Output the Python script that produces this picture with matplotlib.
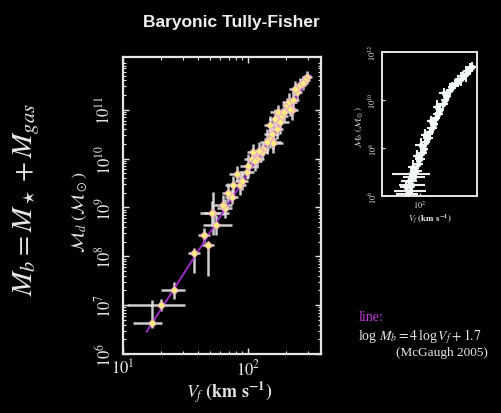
import numpy as np
import matplotlib
matplotlib.use("Agg")
import matplotlib.pyplot as plt

plt.rcParams['mathtext.fontset'] = 'stix'
plt.rcParams['font.family'] = ['Liberation Serif', 'DejaVu Serif']

# ---------------- main panel data (log10 values) ----------------
main_logV = [1.234, 1.304, 1.408, 1.570, 1.648, 1.682, 1.718, 1.742, 1.816, 1.870,
             1.910, 1.936, 1.990, 2.042, 2.070, 2.122, 2.176, 2.202, 2.216, 2.270,
             2.310, 2.350, 2.390, 2.470, 2.416, 1.710, 1.802, 2.030, 2.110, 2.200,
             2.176, 2.240, 2.336, 2.376, 2.456,
             1.950, 2.000, 2.060, 2.090, 2.150, 2.190, 2.230, 2.260, 2.290, 2.330,
             2.360, 2.440, 1.880, 1.840]
main_logM = [6.63, 7.01, 7.30, 8.06, 8.43, 8.24, 8.89, 8.64, 8.98, 9.22,
             9.69, 9.46, 9.73, 10.14, 10.00, 10.20, 10.41, 10.34, 10.82, 10.88,
             11.09, 10.99, 11.36, 11.67, 11.50, 8.88, 9.05, 10.00, 10.14, 10.31,
             10.68, 10.95, 11.02, 11.43, 11.60,
             9.55, 9.85, 9.95, 10.15, 10.35, 10.50, 10.60, 10.75, 10.95, 11.15,
             11.20, 11.55, 9.45, 9.30]
main_xerr_lo = [0.15, 0.27, 0.10, 0.05, 0.05, 0.05, 0.10, 0.10, 0.06, 0.05,
                0.06, 0.05, 0.06, 0.05, 0.06, 0.05, 0.05, 0.06, 0.05, 0.05,
                0.04, 0.05, 0.04, 0.04, 0.04, 0.06, 0.07, 0.06, 0.05, 0.08,
                0.05, 0.06, 0.05, 0.05, 0.04,
                0.05, 0.06, 0.05, 0.07, 0.05, 0.06, 0.05, 0.07, 0.05, 0.06,
                0.05, 0.04, 0.06, 0.05]
main_xerr_hi = [0.08, 0.19, 0.09, 0.05, 0.05, 0.05, 0.13, 0.13, 0.06, 0.05,
                0.06, 0.05, 0.06, 0.05, 0.06, 0.05, 0.05, 0.06, 0.05, 0.05,
                0.04, 0.05, 0.04, 0.04, 0.04, 0.06, 0.07, 0.06, 0.05, 0.08,
                0.05, 0.06, 0.05, 0.05, 0.04,
                0.05, 0.06, 0.05, 0.07, 0.05, 0.06, 0.05, 0.07, 0.05, 0.06,
                0.05, 0.04, 0.06, 0.05]
main_yerr_lo = [0.10, 0.12, 0.17, 0.40, 0.15, 0.65, 0.45, 0.20, 0.20, 0.15,
                0.15, 0.20, 0.15, 0.15, 0.20, 0.15, 0.20, 0.15, 0.20, 0.15,
                0.15, 0.20, 0.15, 0.12, 0.15, 0.25, 0.20, 0.20, 0.15, 0.20,
                0.20, 0.15, 0.15, 0.15, 0.12,
                0.20, 0.25, 0.20, 0.20, 0.25, 0.20, 0.20, 0.25, 0.20, 0.20,
                0.20, 0.15, 0.20, 0.20]
main_yerr_hi = [0.47, 0.12, 0.17, 0.10, 0.15, 0.06, 0.43, 0.20, 0.20, 0.15,
                0.15, 0.20, 0.15, 0.15, 0.20, 0.15, 0.20, 0.15, 0.20, 0.15,
                0.15, 0.20, 0.15, 0.12, 0.15, 0.25, 0.20, 0.20, 0.15, 0.20,
                0.20, 0.15, 0.15, 0.15, 0.12,
                0.20, 0.25, 0.20, 0.20, 0.25, 0.20, 0.20, 0.25, 0.20, 0.20,
                0.20, 0.15, 0.20, 0.20]

# fit line: log Mb = 4 log Vf + 1.7  (McGaugh 2005)
line_slope = 4.0
line_zero = 1.7
line_logV_range = [1.19, 2.50]

main_yticks = [1e6, 1e7, 1e8, 1e9, 1e10, 1e11]
main_ytick_labels = ['$10^{6}$', '$10^{7}$', '$10^{8}$', '$10^{9}$', '$10^{10}$', '$10^{11}$']
main_xticks = [1e1, 1e2]
main_xtick_labels = ['$10^{1}$', '$10^{2}$']

# ---------------- inset data (log10 values) ----------------
ins_logV = [1.755, 1.811, 1.736, 1.849, 1.792, 1.887, 1.830, 1.925, 1.868, 1.962,
            2.000, 1.943, 2.038, 2.075, 2.019, 2.113, 2.151, 2.094, 2.189, 2.226,
            2.264, 2.208, 2.302, 2.340, 2.377, 2.321, 2.434, 2.472, 2.509, 2.453,
            2.566, 2.604, 2.660, 2.717, 2.774, 2.811, 2.868, 2.906, 2.943, 2.981]
ins_logM = [6.08, 6.21, 6.38, 6.46, 6.63, 6.79, 6.92, 7.04, 7.21, 7.33,
            7.54, 7.67, 7.79, 7.96, 8.13, 8.25, 8.42, 8.54, 8.67, 8.83,
            9.00, 9.13, 9.25, 9.42, 9.58, 9.71, 9.83, 10.00, 10.17, 10.29,
            10.42, 10.54, 10.67, 10.79, 10.88, 11.00, 11.08, 11.21, 11.29, 11.38]
ins_xerr = [0.20, 0.30, 0.12, 0.25, 0.15, 0.20, 0.35, 0.12, 0.10, 0.10,
            0.10, 0.08, 0.10, 0.08, 0.12, 0.08, 0.10, 0.08, 0.08, 0.10,
            0.08, 0.08, 0.08, 0.10, 0.08, 0.08, 0.10, 0.08, 0.08, 0.10,
            0.08, 0.08, 0.10, 0.08, 0.12, 0.10, 0.08, 0.10, 0.08, 0.08]
ins_yerr = [0.20, 0.25, 0.20, 0.30, 0.20, 0.20, 0.25, 0.20, 0.30, 0.20,
            0.20, 0.25, 0.20, 0.20, 0.30, 0.20, 0.20, 0.25, 0.20, 0.30,
            0.20, 0.20, 0.25, 0.20, 0.20, 0.30, 0.20, 0.20, 0.25, 0.20,
            0.30, 0.20, 0.20, 0.25, 0.30, 0.20, 0.35, 0.20, 0.25, 0.20]
ins_yticks = [1e6, 1e8, 1e10, 1e12]
ins_ytick_labels = ['$10^{6}$', '$10^{8}$', '$10^{10}$', '$10^{12}$']
ins_xticks = [1e2]
ins_xtick_labels = ['$10^{2}$']

W, H = 502, 414
fig = plt.figure(figsize=(W / 100, H / 100), dpi=100, facecolor='black')


def fx(x):
    return x / W


def fy(y):
    return 1 - y / H


FG = '#e6e6e6'

# ---------------- main axes ----------------
ax = fig.add_axes([fx(123), fy(355), fx(321) - fx(123), fy(58) - fy(355)])
ax.set_facecolor('black')
ax.set_xscale('log')
ax.set_yscale('log')
ax.set_xlim(10, 10 ** 2.585)
ax.set_ylim(1e6, 10 ** 12.08)

lV = np.array(main_logV)
lM = np.array(main_logM)
mV = 10 ** lV
mM = 10 ** lM
xe = np.array([mV - 10 ** (lV - np.array(main_xerr_lo)),
               10 ** (lV + np.array(main_xerr_hi)) - mV])
ye = np.array([mM - 10 ** (lM - np.array(main_yerr_lo)),
               10 ** (lM + np.array(main_yerr_hi)) - mM])
ax.errorbar(mV, mM, xerr=xe, yerr=ye, fmt='none', ecolor='#e4e4e4',
            elinewidth=1.8, capsize=0, alpha=0.9, zorder=2)
lv = np.array(line_logV_range)
ax.plot(10 ** lv, 10 ** (line_slope * lv + line_zero), color='#9a2cc4', lw=1.4, zorder=3)
ax.plot(mV, mM, 'D', ms=4.2, mfc='#fbf07a', mec='#f0b0c0', mew=0.8, zorder=4)

ax.set_xticks(main_xticks)
ax.set_xticklabels(main_xtick_labels)
ax.set_yticks(main_yticks)
ax.set_yticklabels(main_ytick_labels, rotation=90, va='center')
ax.tick_params(which='major', direction='in', colors=FG, length=4, width=1,
               top=True, right=True, labelsize=12, labelcolor=FG)
ax.tick_params(which='minor', direction='in', colors=FG, length=2, width=0.8,
               top=True, right=True)
ax.tick_params(axis='y', pad=6)
for s in ax.spines.values():
    s.set_color(FG)
    s.set_linewidth(1.6)

fig.text(fx(229), fy(392), r'$\mathbf{\mathit{V_f}}$ $\mathbf{(km\ s^{-1})}$', color=FG,
         fontsize=13, ha='center', va='center')
fig.text(fx(80), fy(212), r'$\mathcal{M}_d$ $(\mathcal{M}_\odot)$',
         color=FG, fontsize=13, ha='center', va='center', rotation=90)

# ---------------- inset ----------------
ai = fig.add_axes([fx(382), fy(197), fx(477) - fx(382), fy(53) - fy(197)])
ai.set_facecolor('black')
ai.set_xscale('log')
ai.set_yscale('log')
ai.set_xlim(10 ** 1.283, 10 ** 3.075)
ai.set_ylim(1e6, 1e12)
iV = 10 ** np.array(ins_logV)
iM = 10 ** np.array(ins_logM)
ixe = np.array([iV - 10 ** (np.array(ins_logV) - np.array(ins_xerr)),
                10 ** (np.array(ins_logV) + np.array(ins_xerr)) - iV])
iye = np.array([iM - 10 ** (np.array(ins_logM) - np.array(ins_yerr)),
                10 ** (np.array(ins_logM) + np.array(ins_yerr)) - iM])
ai.errorbar(iV, iM, xerr=ixe, yerr=iye, fmt='none', ecolor='#eeeeee',
            elinewidth=1.5, capsize=0, zorder=2)
ai.plot(iV, iM, 'o', ms=3.5, mfc='#f4fbfb', mec='#f4fbfb', mew=0.5, zorder=3)
ai.set_xticks(ins_xticks)
ai.set_xticklabels(ins_xtick_labels)
ai.set_yticks(ins_yticks)
ai.set_yticklabels(ins_ytick_labels, rotation=90, va='center')
ai.xaxis.set_minor_locator(matplotlib.ticker.NullLocator())
ai.yaxis.set_minor_locator(matplotlib.ticker.NullLocator())
ai.tick_params(which='major', direction='in', colors=FG, length=2, width=0.8,
               labelsize=6, labelcolor=FG, pad=2)
for s in ai.spines.values():
    s.set_color(FG)
    s.set_linewidth(1.4)
fig.text(fx(430), fy(219), r'$\mathit{V_f}$ $\mathbf{(km\ s^{-1})}$', color=FG,
         fontsize=6.5, ha='center', va='center')
fig.text(fx(359), fy(127), r'$\mathcal{M}_b$ $(\mathcal{M}_\odot)$',
         color=FG, fontsize=6.5, ha='center', va='center', rotation=90)

# ---------------- annotations ----------------
fig.text(fx(231), fy(22), 'Baryonic Tully-Fisher', color='#f0f0f0', fontsize=12.5,
         fontweight='bold', family='Liberation Sans', ha='center', va='center')
fig.text(fx(27), fy(200), r'$M_b = M_\star + M_{gas}$', color='#e8e8e8', fontsize=21,
         rotation=90, ha='center', va='center')
fig.text(fx(359), fy(318), 'line:', color='#c23ae0', fontsize=10, ha='left', va='center')
fig.text(fx(358), fy(337), r'log $M_b = 4\,$log$\,V_f + 1.7$', color='#e8e8e8', fontsize=10,
         ha='left', va='center')
fig.text(fx(488), fy(353), '(McGaugh 2005)', color='#e8e8e8', fontsize=9.5,
         ha='right', va='center')

fig.savefig('out.png', dpi=100, facecolor='black')
